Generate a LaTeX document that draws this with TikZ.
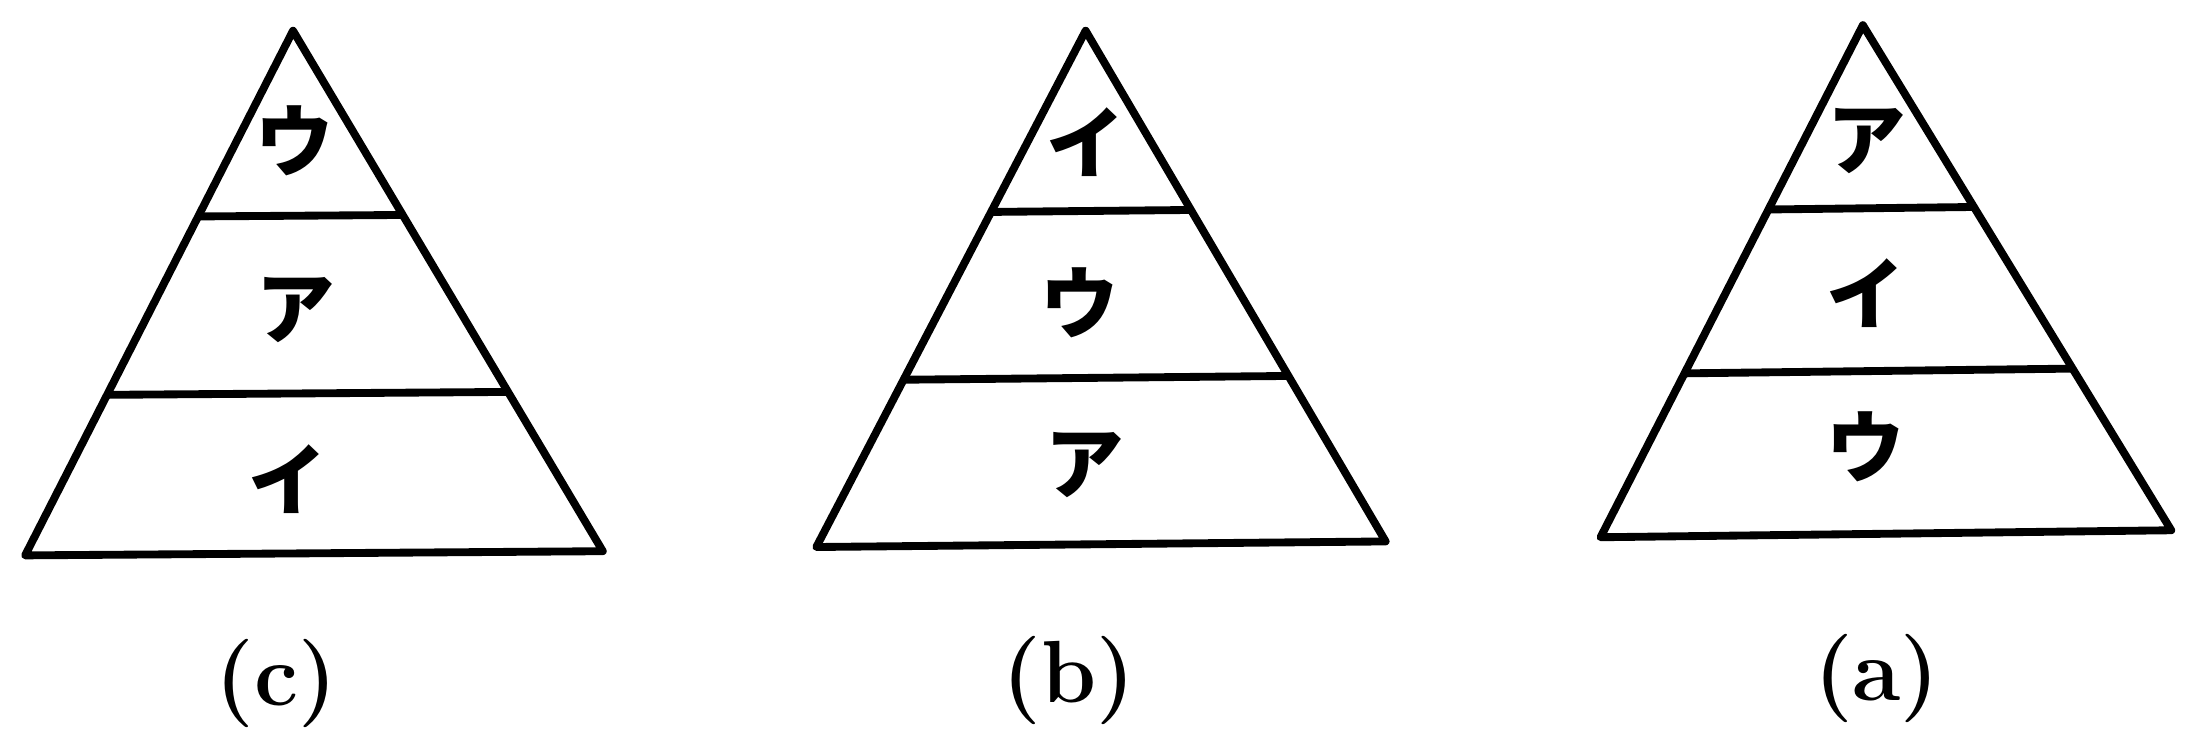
\documentclass[tikz,border=0pt]{standalone}
\usepackage{fontspec}
\newfontfamily\cjk{Noto Sans CJK JP}
\usetikzlibrary{calc}
\tikzset{
  tri/.style={line width=3.2pt, line join=round},
  band/.style={line width=3.2pt},
  kana/.style={font=\cjk\bfseries\fontsize{32}{32}\selectfont, inner sep=0pt},
  capt/.style={font=\bfseries\fontsize{36}{36}\selectfont, inner sep=0pt}
}
\begin{document}
\begin{tikzpicture}[x=0.02cm, y=-0.02cm]
\useasboundingbox (0,0) rectangle (1568,525);
\foreach \n/\ax/\ay/\lx/\ly/\rx/\ry/\ta/\tb in {
  1/210/22/18/398/432/395/0.354/0.694,
  2/778/22/585/392/993/388/0.351/0.676,
  3/1335/18/1147/385/1556/380/0.36/0.68}{
  \coordinate (A\n) at (\ax,\ay);
  \coordinate (L\n) at (\lx,\ly);
  \coordinate (R\n) at (\rx,\ry);
  \draw[tri] (A\n) -- (L\n) -- (R\n) -- cycle;
  \draw[band] ($(A\n)!\ta!(L\n)$) -- ($(A\n)!\ta!(R\n)$);
  \draw[band] ($(A\n)!\tb!(L\n)$) -- ($(A\n)!\tb!(R\n)$);
}
% pyramid (c)
\node[kana] (c1) at (211,101) {ウ};
\node[kana] (c2) at (212,222) {ア};
\node[kana] (c3) at (206,343) {イ};
% pyramid (b)
\node[kana] (b1) at (778,102) {イ};
\node[kana] (b2) at (774,217) {ウ};
\node[kana] (b3) at (777,333) {ア};
% pyramid (a)
\node[kana] (a1) at (1338,101) {ア};
\node[kana] (a2) at (1337,210) {イ};
\node[kana] (a3) at (1337,320) {ウ};
% captions
\node[capt] (capc) at (198,490) {(c)};
\node[capt] (capb) at (766,488) {(b)};
\node[capt] (capa) at (1345,486) {(a)};
\end{tikzpicture}
\end{document}
